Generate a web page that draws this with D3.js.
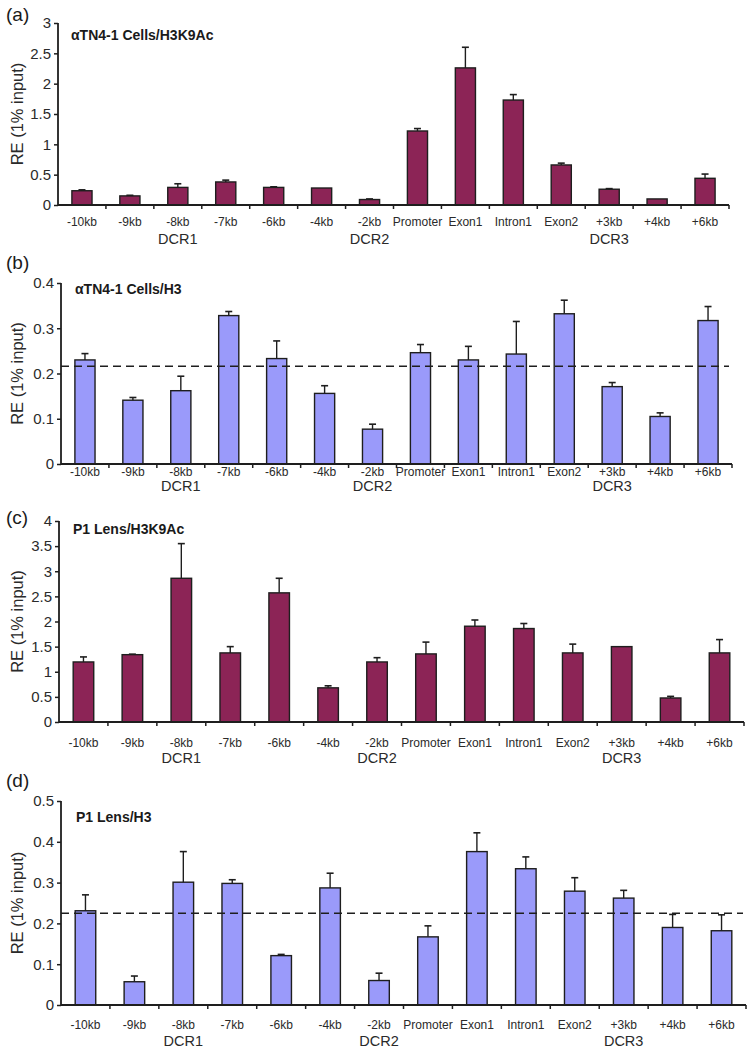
<!DOCTYPE html>
<html>
<head>
<meta charset="utf-8">
<script src="https://cdn.jsdelivr.net/npm/d3@7"></script>
<style>
  html, body { margin: 0; padding: 0; background: #fff; }
  svg { display: block; font-family: "Liberation Sans", Arial, sans-serif; }
</style>
</head>
<body>
<svg id="chart" width="756" height="1053"></svg>
<script>
// ---- data ----
const categories = ["-10kb","-9kb","-8kb","-7kb","-6kb","-4kb","-2kb","Promoter","Exon1","Intron1","Exon2","+3kb","+4kb","+6kb"];
const regionLabels = ["", "", "DCR1", "", "", "", "DCR2", "", "", "", "", "DCR3", "", ""];

const aValues = [0.235, 0.15, 0.29, 0.38, 0.29, 0.28, 0.09, 1.22, 2.26, 1.73, 0.66, 0.26, 0.10, 0.44];
const aErrors = [0.015, 0.01, 0.06, 0.03, 0.01, 0.0, 0.01, 0.04, 0.34, 0.09, 0.03, 0.01, 0.0, 0.07];
const aTicks = [0, 0.5, 1, 1.5, 2, 2.5, 3];

const bValues = [0.230, 0.141, 0.162, 0.328, 0.233, 0.156, 0.077, 0.246, 0.230, 0.243, 0.332, 0.171, 0.105, 0.317];
const bErrors = [0.014, 0.006, 0.032, 0.009, 0.039, 0.017, 0.011, 0.018, 0.030, 0.072, 0.030, 0.009, 0.008, 0.031];
const bTicks = [0, 0.1, 0.2, 0.3, 0.4];
const bReference = 0.216;

const cValues = [1.195, 1.34, 2.86, 1.375, 2.57, 0.68, 1.195, 1.355, 1.906, 1.86, 1.375, 1.50, 0.478, 1.375];
const cErrors = [0.10, 0.01, 0.69, 0.125, 0.29, 0.04, 0.085, 0.235, 0.124, 0.10, 0.175, 0.0, 0.032, 0.265];
const cTicks = [0, 0.5, 1, 1.5, 2, 2.5, 3, 3.5, 4];

const dValues = [0.231, 0.057, 0.301, 0.298, 0.121, 0.287, 0.060, 0.167, 0.376, 0.334, 0.279, 0.262, 0.190, 0.182];
const dErrors = [0.039, 0.014, 0.075, 0.009, 0.003, 0.036, 0.018, 0.027, 0.046, 0.029, 0.033, 0.019, 0.032, 0.039];
const dTicks = [0, 0.1, 0.2, 0.3, 0.4, 0.5];
const dReference = 0.225;

const panelLetters = ["(a)", "(b)", "(c)", "(d)"];
const panelTitles = ["\u03b1TN4-1 Cells/H3K9Ac", "\u03b1TN4-1 Cells/H3", "P1 Lens/H3K9Ac", "P1 Lens/H3"];
const yLabel = "RE (1% input)";

// ---- layout / style ----
const maroon = "#8c2456";
const blue = "#9a9afa";
const ink = "#1e1e1e";

const panels = [
  { values: aValues, errors: aErrors, ticks: aTicks, ref: null, color: maroon,
    x0: 58, x1: 729, yTop: 23, yBot: 205, letterY: 21, titleX: 71, titleY: 40, catDy: 21, regDy: 39 },
  { values: bValues, errors: bErrors, ticks: bTicks, ref: bReference, color: blue,
    x0: 61, x1: 732, yTop: 283, yBot: 464, letterY: 269, titleX: 75, titleY: 294, catDy: 12, regDy: 27 },
  { values: cValues, errors: cErrors, ticks: cTicks, ref: null, color: maroon,
    x0: 59, x1: 744, yTop: 521, yBot: 722, letterY: 524, titleX: 73, titleY: 534, catDy: 25, regDy: 41 },
  { values: dValues, errors: dErrors, ticks: dTicks, ref: dReference, color: blue,
    x0: 61, x1: 746, yTop: 801, yBot: 1005, letterY: 787, titleX: 76, titleY: 822, catDy: 24, regDy: 41 }
];

const svg = d3.select("#chart");
const fmt = d3.format("~g");

panels.forEach((p, pi) => {
  const g = svg.append("g");
  const x = d3.scaleBand().domain(categories).range([p.x0, p.x1]).padding(0);
  const y = d3.scaleLinear().domain([0, p.ticks[p.ticks.length - 1]]).range([p.yBot, p.yTop]);
  const barW = x.bandwidth() * 0.42;

  // bars
  g.selectAll("rect.bar").data(categories).join("rect")
    .attr("x", d => x(d) + (x.bandwidth() - barW) / 2)
    .attr("y", (d, i) => y(p.values[i]))
    .attr("width", barW)
    .attr("height", (d, i) => y(0) - y(p.values[i]))
    .attr("fill", p.color)
    .attr("stroke", ink)
    .attr("stroke-width", 1.4);

  // error bars (upper only)
  categories.forEach((c, i) => {
    if (p.errors[i] <= 0) return;
    const cx = x(c) + x.bandwidth() / 2;
    const y1 = y(p.values[i]);
    const y2 = y(p.values[i] + p.errors[i]);
    g.append("line").attr("x1", cx).attr("x2", cx).attr("y1", y1).attr("y2", y2)
      .attr("stroke", ink).attr("stroke-width", 1.4);
    g.append("line").attr("x1", cx - 3.5).attr("x2", cx + 3.5).attr("y1", y2).attr("y2", y2)
      .attr("stroke", ink).attr("stroke-width", 1.6);
  });

  // reference dashed line
  if (p.ref !== null) {
    g.append("line")
      .attr("x1", p.x0).attr("x2", p.x1 - 3)
      .attr("y1", y(p.ref)).attr("y2", y(p.ref))
      .attr("stroke", ink).attr("stroke-width", 1.6)
      .attr("stroke-dasharray", "8,5");
  }

  // y axis
  const yAxis = d3.axisLeft(y).tickValues(p.ticks).tickFormat(fmt).tickSize(4).tickPadding(3);
  const ya = g.append("g").attr("transform", `translate(${p.x0},0)`).call(yAxis);
  ya.select(".domain").attr("stroke", ink).attr("stroke-width", 1.8).attr("d", `M0,${p.yBot}V${p.yTop}`);
  ya.selectAll(".tick line").attr("stroke", ink).attr("stroke-width", 1.5);
  ya.selectAll(".tick text").attr("fill", "#2a2a2a").attr("font-size", 15)
    .attr("font-family", "Liberation Sans, Arial, sans-serif");

  // x axis line + boundary ticks
  g.append("line").attr("x1", p.x0).attr("x2", p.x1).attr("y1", p.yBot).attr("y2", p.yBot)
    .attr("stroke", ink).attr("stroke-width", 1.8);
  const bounds = categories.map(c => x(c)).slice(1).concat([p.x1]);
  g.selectAll("line.xt").data(bounds).join("line")
    .attr("x1", d => d).attr("x2", d => d)
    .attr("y1", p.yBot).attr("y2", p.yBot + 4)
    .attr("stroke", ink).attr("stroke-width", 1.5);

  // category labels
  g.selectAll("text.cat").data(categories).join("text")
    .attr("x", d => x(d) + x.bandwidth() / 2)
    .attr("y", p.yBot + p.catDy)
    .attr("text-anchor", "middle")
    .attr("font-size", 12)
    .attr("fill", "#2a2a2a")
    .text(d => d);

  // region labels
  g.selectAll("text.reg").data(categories).join("text")
    .attr("x", d => x(d) + x.bandwidth() / 2)
    .attr("y", p.yBot + p.regDy)
    .attr("text-anchor", "middle")
    .attr("font-size", 14.5)
    .attr("fill", "#2a2a2a")
    .text((d, i) => regionLabels[i]);

  // y label
  const midY = (p.yTop + p.yBot) / 2;
  g.append("text")
    .attr("transform", `translate(23,${midY}) rotate(-90)`)
    .attr("text-anchor", "middle")
    .attr("font-size", 16.5)
    .attr("fill", "#2a2a2a")
    .text(yLabel);

  // panel letter
  g.append("text").attr("x", 6).attr("y", p.letterY)
    .attr("font-size", 19).attr("fill", "#1a1a1a").text(panelLetters[pi]);

  // title
  g.append("text").attr("x", p.titleX).attr("y", p.titleY)
    .attr("font-size", 14).attr("font-weight", "bold").attr("fill", "#1a1a1a")
    .text(panelTitles[pi]);
});
</script>
</body>
</html>
